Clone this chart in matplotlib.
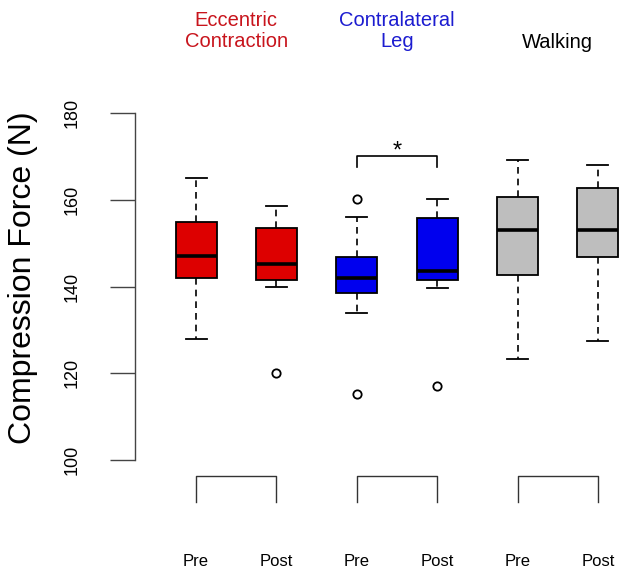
import matplotlib
matplotlib.use("Agg")
import matplotlib.pyplot as plt

plt.rcParams['font.family'] = ['Liberation Sans', 'DejaVu Sans']

# box statistics (N)
conditions = ['Pre', 'Post', 'Pre', 'Post', 'Pre', 'Post']
whisker_low = [128.0, 139.9, 134.0, 139.6, 123.4, 127.4]
q1 = [142.0, 141.5, 138.4, 141.6, 142.7, 146.7]
medians = [147.0, 145.1, 142.0, 143.6, 153.0, 153.0]
q3 = [154.9, 153.6, 146.8, 155.9, 160.6, 162.6]
whisker_high = [165.1, 158.6, 156.1, 160.1, 169.2, 167.9]
outliers = [[], [120.0], [160.1, 115.2], [117.1], [], []]

fill_colors = ['#dd0000', '#dd0000', '#0000ee', '#0000ee', '#bebebe', '#bebebe']

groups = ['Eccentric\nContraction', 'Contralateral\nLeg', 'Walking']
group_colors = ['#c8141c', '#1c1cd0', '#000000']

positions = [1, 2, 3, 4, 5, 6]

fig = plt.figure(figsize=(6.3, 5.77), dpi=100)
ax = fig.add_axes([135 / 630, 0, 495 / 630, 1])

stats = []
for i in range(len(conditions)):
    stats.append({
        'whislo': whisker_low[i], 'q1': q1[i], 'med': medians[i],
        'q3': q3[i], 'whishi': whisker_high[i], 'fliers': outliers[i],
        'label': conditions[i],
    })

bp = ax.bxp(stats, positions=positions, widths=0.51, capwidths=0.26,
            patch_artist=True, showfliers=True,
            boxprops=dict(linewidth=1.3, edgecolor='black'),
            medianprops=dict(linewidth=2.6, color='black', solid_capstyle='butt'),
            whiskerprops=dict(linewidth=1.2, color='black', linestyle=(0, (4, 3))),
            capprops=dict(linewidth=1.3, color='black'),
            flierprops=dict(marker='o', markersize=6, markerfacecolor='none',
                            markeredgecolor='black', markeredgewidth=1.3))
for patch, c in zip(bp['boxes'], fill_colors):
    patch.set_facecolor(c)

ax.set_xlim(0.24, 6.40)
ax.set_ylim(73.03, 206.05)

for s in ['top', 'right', 'bottom']:
    ax.spines[s].set_visible(False)
ax.spines['left'].set_bounds(100, 180)
ax.spines['left'].set_color('#444444')
ax.spines['left'].set_linewidth(1.0)
ax.set_yticks([100, 120, 140, 160, 180])
ax.tick_params(axis='y', length=18, width=1.0, color='#444444', pad=21,
               labelsize=13, labelrotation=90)
for lab in ax.get_yticklabels():
    lab.set_verticalalignment('center')
ax.set_xticks([])

# condition labels under the plot
for p, name in zip(positions, conditions):
    ax.text(p, 76.55, name, ha='center', va='center', fontsize=12)

# group brackets and titles
for g in range(3):
    a, b = positions[2 * g], positions[2 * g + 1]
    ax.plot([a, a, b, b], [90.4, 96.3, 96.3, 90.4], color='#333333', lw=1.0,
            clip_on=False)
    ax.text((a + b) / 2, 198.9 if g < 2 else 196.3, groups[g], ha='center',
            va='center', fontsize=14.5, color=group_colors[g], linespacing=1.15)

# significance bracket
ax.plot([3, 3, 4, 4], [167.6, 170.1, 170.1, 167.6], color='black', lw=1.2)
ax.text(3.5, 171.2, '*', ha='center', va='center', fontsize=17)

fig.text(23 / 630, 1 - 278 / 577, 'Compression Force (N)', rotation=90,
         ha='center', va='center', fontsize=23)

fig.savefig('out.png', dpi=100)
